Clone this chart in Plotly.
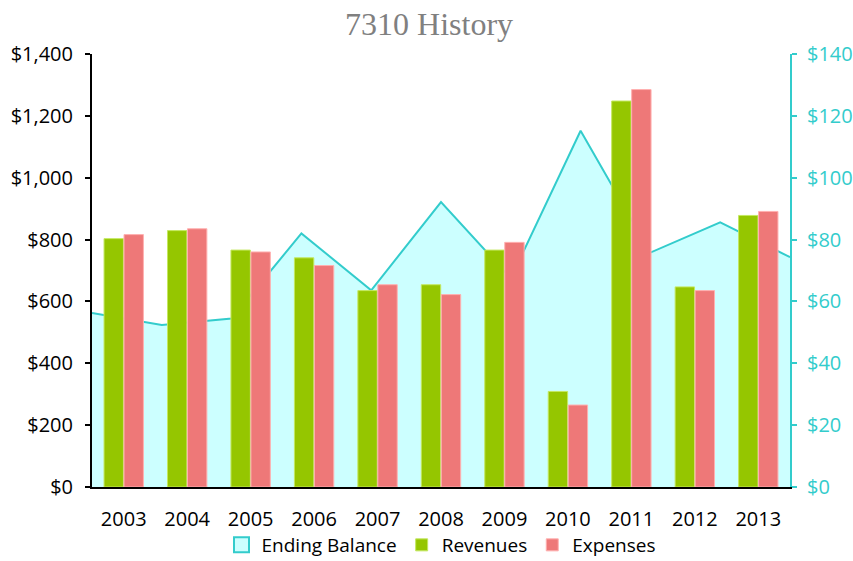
import plotly.graph_objects as go

years = ["2003", "2004", "2005", "2006", "2007", "2008", "2009", "2010", "2011", "2012", "2013"]
ending_balance = [56.3, 52.4, 54.5, 82.0, 63.6, 92.1, 67.5, 115.2, 75.8, 85.6, 74.3]
revenues = [803, 829, 766, 741, 635, 654, 766, 309, 1248, 647, 878]
expenses = [816, 835, 760, 716, 654, 622, 791, 265, 1285, 635, 891]

left_ticks = [0, 200, 400, 600, 800, 1000, 1200, 1400]
left_labels = ["$0", "$200", "$400", "$600", "$800", "$1,000", "$1,200", "$1,400"]
right_ticks = [0, 20, 40, 60, 80, 100, 120, 140]
right_labels = ["$0", "$20", "$40", "$60", "$80", "$100", "$120", "$140"]

TEAL = "#33CCCC"
FONT = "Open Sans"
FS = 20

fig = go.Figure()

# Area on base axes (drawn beneath the bars)
fig.add_trace(go.Scatter(
    x=list(range(len(ending_balance))), y=ending_balance,
    name="Ending Balance", mode="lines",
    line=dict(color=TEAL, width=2),
    fill="tozeroy", fillcolor="#CCFFFF",
    xaxis="x", yaxis="y", showlegend=False, legendgroup="eb",
))
# legend swatch for the area
fig.add_trace(go.Scatter(
    x=[None], y=[None], name="Ending Balance", mode="markers",
    marker=dict(symbol="square", size=15, color="#CCFFFF", line=dict(color=TEAL, width=2)),
    xaxis="x", yaxis="y", legendgroup="eb",
))

fig.add_trace(go.Bar(
    x=years, y=revenues, name="Revenues",
    marker=dict(color="#95C600", line=dict(color="#C4E860", width=1)),
    xaxis="x2", yaxis="y2",
))
fig.add_trace(go.Bar(
    x=years, y=expenses, name="Expenses",
    marker=dict(color="#EE7878", line=dict(color="#FFB0B0", width=1)),
    xaxis="x2", yaxis="y2",
))

fig.update_layout(
    width=853, height=561,
    margin=dict(l=92, r=63, t=54, b=74, autoexpand=False),
    paper_bgcolor="white", plot_bgcolor="white",
    title=dict(text="7310 History", x=0.503, xanchor="center", y=0.957, yanchor="middle",
               font=dict(family="Liberation Serif, DejaVu Serif, serif", size=32, color="#808080")),
    barmode="group", bargap=0.37, bargroupgap=0.03,
    showlegend=True,
    legend=dict(orientation="h", x=0.5, xanchor="center", y=-0.134, yanchor="middle",
                bgcolor="rgba(0,0,0,0)",
                font=dict(family=FONT, size=19, color="#000"), traceorder="normal",
                itemwidth=30, tracegroupgap=0),
    xaxis=dict(range=[0, 10], visible=False, showgrid=False, zeroline=False, automargin=False),
    yaxis=dict(range=[0, 140], side="right", tickvals=right_ticks, ticktext=right_labels,
               showgrid=False, zeroline=False, showline=True, linecolor=TEAL, linewidth=2,
               ticks="outside", ticklen=5, tickcolor=TEAL, tickwidth=2, automargin=False,
               ticklabelstandoff=6,
               tickfont=dict(family=FONT, size=FS, color=TEAL)),
    xaxis2=dict(overlaying="x", type="category", showgrid=False, zeroline=False,
                showline=True, linecolor="#000", linewidth=2, ticks="", automargin=False,
                tickfont=dict(family=FONT, size=FS, color="#000"), ticklabelstandoff=13),
    yaxis2=dict(overlaying="y", side="left", range=[0, 1400], tickvals=left_ticks,
                ticktext=left_labels, showgrid=False, zeroline=False, showline=True,
                linecolor="#000", linewidth=2, ticks="outside", ticklen=5, tickcolor="#000",
                tickwidth=2, automargin=False, ticklabelstandoff=8,
                tickfont=dict(family=FONT, size=FS, color="#000")),
)

fig.write_html("out.html", config={"displayModeBar": False},
               post_script="document.body.style.margin='0';")
